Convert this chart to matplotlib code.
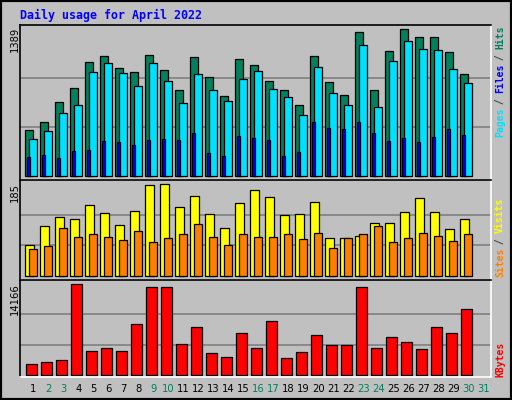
import matplotlib
matplotlib.use("Agg")
import matplotlib.pyplot as plt
import numpy as np

days = list(range(1, 32))
weekend_days = [2, 3, 9, 10, 16, 17, 23, 24, 30, 31]
hits = [435, 510, 699, 832, 1077, 1134, 1021, 983, 1143, 1002, 813, 1124, 936, 756, 1106,
        1049, 898, 813, 671, 1134, 888, 765, 1361, 813, 1181, 1389, 1313, 1313, 1172, 964]
files = [350, 425, 595, 671, 983, 1068, 973, 850, 1068, 898, 690, 964, 813, 709, 917,
         992, 822, 747, 576, 1030, 784, 671, 1238, 652, 1087, 1276, 1200, 1191, 1011, 879]
pages = [180, 198, 170, 236, 246, 331, 321, 293, 340, 350, 340, 406, 217, 189, 378,
         359, 340, 189, 227, 510, 454, 444, 510, 406, 331, 359, 321, 369, 444, 387]
visits = [62, 101, 119, 115, 143, 127, 103, 131, 183, 185, 139, 161, 125, 98, 147,
          173, 159, 123, 125, 149, 76, 78, 82, 107, 107, 129, 157, 129, 96, 115]
sites = [54, 60, 98, 80, 86, 80, 72, 92, 68, 76, 86, 105, 80, 62, 86,
         80, 80, 86, 74, 88, 56, 76, 86, 101, 68, 76, 88, 82, 70, 86]
kbytes = [1706, 2016, 2327, 14166, 3722, 4188, 3722, 7910, 13649, 13649, 4808, 7445, 3412, 2792, 6514,
          4188, 8375, 2637, 3567, 6204, 4653, 4653, 13649, 4188, 5894, 5118, 4033, 7445, 6514, 10237]
max_labels = ["1389", "185", "14166"]

W, H = 512, 400
BG = "#C0C0C0"
C_HITS, C_FILES, C_PAGES = "#00805C", "#00E0FF", "#0000FF"
C_VISITS, C_SITES, C_KB = "#FFFF00", "#FF8000", "#FF0000"

fig = plt.figure(figsize=(W / 100, H / 100), dpi=100)
fig.patch.set_facecolor(BG)

def px_axes(x0, y0, x1, y1):
    return fig.add_axes([x0 / W, 1 - y1 / H, (x1 - x0) / W, (y1 - y0) / H])

def ftext(x, y, s, **kw):
    fig.text(x / W, 1 - y / H, s, **kw)

fig.add_artist(plt.Rectangle((0, 0), 1, 1, transform=fig.transFigure, fill=False,
                             edgecolor="black", linewidth=3))

n = len(hits)
x = np.arange(n)

def style(ax, ylim, grid):
    ax.set_facecolor(BG)
    ax.set_xlim(0, 471 / 15)
    ax.set_ylim(*ylim)
    ax.set_xticks([]); ax.set_yticks([])
    for g in grid:
        ax.axhline(g, color="#808080", lw=1.2, zorder=0)
    ax.spines["top"].set_color("black"); ax.spines["left"].set_color("black")
    ax.spines["bottom"].set_color("white"); ax.spines["right"].set_color("white")
    for s in ax.spines.values():
        s.set_linewidth(1.2)

kw = dict(align="edge", edgecolor="black", linewidth=0.9)

ax1 = px_axes(20, 25, 491, 180)
style(ax1, (-38, 1427), [463, 926])
ax1.bar(x + 0.353, hits, 0.5, color=C_HITS, **kw)
ax1.bar(x + 0.62, files, 0.5, color=C_FILES, **kw)
ax1.bar(x + 0.44, pages, 0.2, color=C_PAGES, **kw)

ax2 = px_axes(20, 180, 491, 280)
style(ax2, (-7.5, 193.7), [62, 123])
ax2.bar(x + 0.353, visits, 0.56, color=C_VISITS, **kw)
ax2.bar(x + 0.62, sites, 0.5, color=C_SITES, **kw)

ax3 = px_axes(20, 280, 491, 377)
style(ax3, (-264, 14790), [4722, 9444])
ax3.bar(x + 0.42, kbytes, 0.7, color=C_KB, **kw)

ftext(20, 15, "Daily usage for April 2022", color="#0000FF", family="DejaVu Sans Mono",
      fontweight="bold", fontsize=8.4, va="center", ha="left")

for lab, ytop in zip(max_labels, [27, 183, 283]):
    ftext(15, ytop, lab, rotation=90, rotation_mode="anchor", ha="right", va="center",
          fontsize=7.2, color="black")

def right_label(parts, ybottom):
    off = 0
    pitch = 5.5
    for s, c in parts:
        ftext(500, ybottom - off * pitch, s, rotation=90, rotation_mode="anchor",
              ha="left", va="center", fontsize=7, fontweight="bold",
              family="DejaVu Sans Mono", color=c)
        off += len(s)

right_label([("Pages", C_FILES), (" / ", "#404040"), ("Files", C_PAGES),
             (" / ", "#404040"), ("Hits", C_HITS)], 137)
right_label([("Sites", C_SITES), (" / ", "#404040"), ("Visits", C_VISITS)], 277)
right_label([("KBytes", C_KB)], 377)

for d in days:
    px = 20 + 15 * (d - 1 + 0.88)
    ftext(px, 389, str(d), ha="center", va="center", fontsize=7.2,
          color=C_HITS if d in weekend_days else "black")

fig.savefig("out.png", dpi=100, facecolor=BG)
